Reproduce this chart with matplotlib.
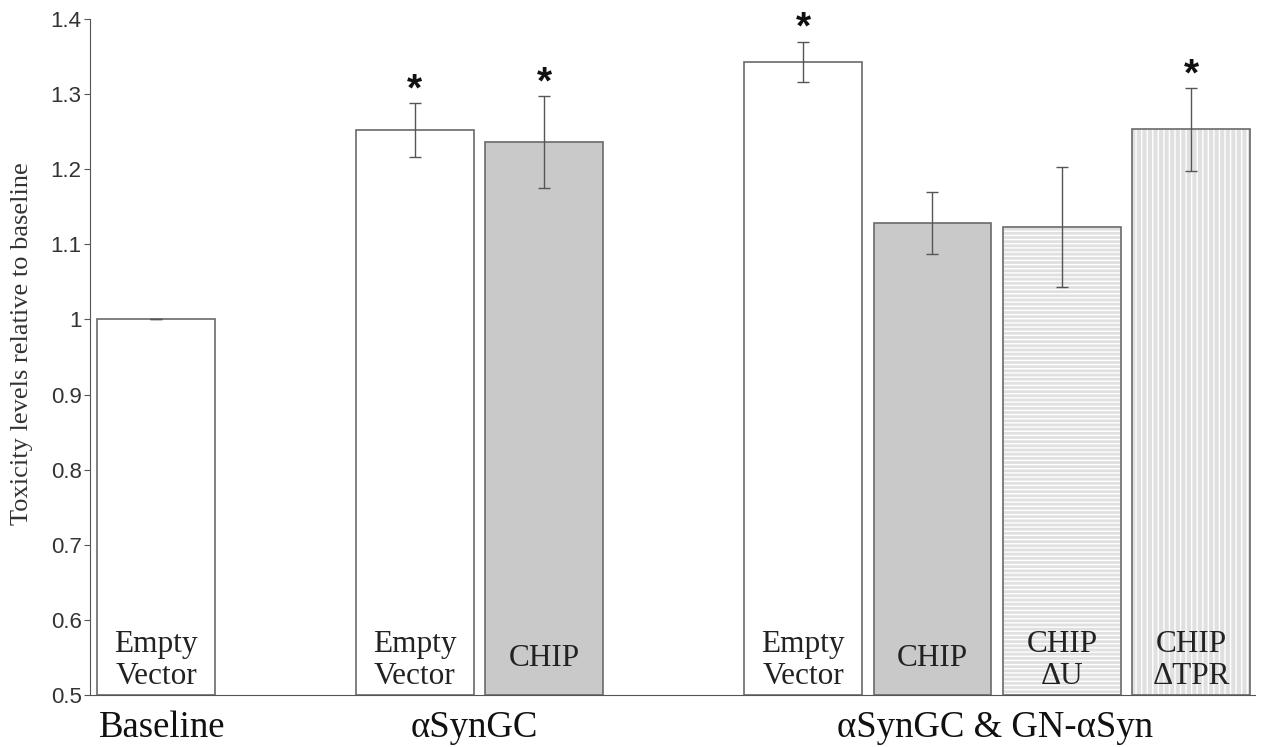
import matplotlib
matplotlib.use('Agg')
import matplotlib.pyplot as plt

# bar data
positions = [0, 2, 3, 5, 6, 7, 8]
values = [1.0, 1.252, 1.236, 1.343, 1.128, 1.123, 1.253]
errors = [0.0, 0.036, 0.061, 0.027, 0.041, 0.080, 0.055]
bar_labels = ['Empty\nVector', 'Empty\nVector', 'CHIP', 'Empty\nVector', 'CHIP', 'CHIP\n\u0394U', 'CHIP\n\u0394TPR']
significant = [False, True, True, True, False, False, True]
group_names = ['Baseline', '\u03b1SynGC', '\u03b1SynGC & GN-\u03b1Syn']
group_centers = [0.05, 2.46, 6.48]

faces = ['white', 'white', '#c9c9c9', 'white', '#c9c9c9', '#e0e0e0', '#e0e0e0']
hatches = [None, None, None, None, None, '----', '|||']

fig = plt.figure(figsize=(12.61, 7.47), dpi=100)
ax = fig.add_axes([0.0714, 0.0696, 0.9236, 0.905])

width = 0.91
for x, v, fc, h in zip(positions, values, faces, hatches):
    if h:
        # hatch drawn in white over a pale grey fill
        ax.bar(x, v - 0.5, width, bottom=0.5, color=fc, edgecolor='white', hatch=h, linewidth=0)
        ax.bar(x, v - 0.5, width, bottom=0.5, color='none', edgecolor='#6a6a6a', linewidth=1.2)
    else:
        ax.bar(x, v - 0.5, width, bottom=0.5, color=fc, edgecolor='#6a6a6a', linewidth=1.2)

ax.errorbar(positions, values, yerr=errors, fmt='none', ecolor='#555555', elinewidth=1.0, capsize=4, capthick=1.0)

for x, v, e, s in zip(positions, values, errors, significant):
    if s:
        ax.text(x, v + e + 0.004, '*', ha='center', va='baseline', fontsize=28, fontweight='bold',
                family='Liberation Sans', color='#111111')

for x, lab in zip(positions, bar_labels):
    if '\n' in lab:
        ax.text(x, 0.505, lab, ha='center', va='bottom', fontsize=22.5, family='Liberation Serif',
                linespacing=1.15, color='#222222')
    else:
        ax.text(x, 0.549, lab, ha='center', va='center', fontsize=22.5, family='Liberation Serif',
                color='#222222')

for gx, name in zip(group_centers, group_names):
    ax.text(gx, 0.457, name, ha='center', va='center', fontsize=26.5, family='Liberation Serif',
            color='#111111')

ax.set_xlim(-0.51, 8.49)
ax.set_ylim(0.5, 1.4)
ax.set_yticks([0.5, 0.6, 0.7, 0.8, 0.9, 1.0, 1.1, 1.2, 1.3, 1.4])
ax.set_yticklabels(['0.5', '0.6', '0.7', '0.8', '0.9', '1', '1.1', '1.2', '1.3', '1.4'],
                   family='Liberation Sans', fontsize=16, color='#333333')
ax.set_xticks([])
ax.tick_params(axis='y', length=4, color='#555555', pad=2)
ax.spines['top'].set_visible(False)
ax.spines['right'].set_visible(False)
ax.spines['left'].set_color('#555555')
ax.spines['bottom'].set_color('#555555')
ax.set_ylabel('Toxicity levels relative to baseline', family='Liberation Serif', fontsize=19,
              color='#333333')
ax.yaxis.set_label_coords(-0.049, 0.52)

fig.savefig('out.png', dpi=100)
